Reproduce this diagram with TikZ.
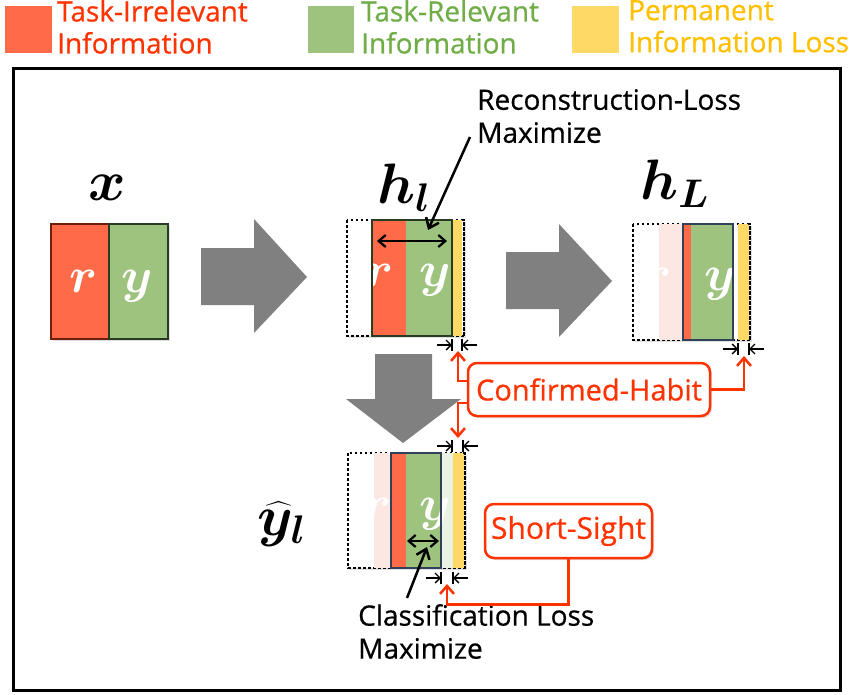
\RequirePackage{fix-cm}
\documentclass[tikz,border=0pt]{standalone}
\usepackage{amsmath}
\usepackage{fontspec}
\setmainfont{Open Sans}[FakeBold=0.6]
\usepackage{bm}
\usetikzlibrary{arrows.meta,shadows}
\definecolor{fillred}{RGB}{255,107,72}
\definecolor{fillgreen}{RGB}{157,195,126}
\definecolor{fillyellow}{RGB}{255,217,102}
\definecolor{txtred}{RGB}{255,51,0}
\definecolor{txtgreen}{RGB}{112,173,71}
\definecolor{txtyellow}{RGB}{255,192,0}
\definecolor{fadedpink}{RGB}{253,231,226}
\definecolor{fadedgreen}{RGB}{234,242,228}
\definecolor{arrowgray}{RGB}{128,128,128}
\definecolor{coreblue}{RGB}{50,65,90}
\definecolor{coregreen}{RGB}{40,60,35}
\definecolor{darkred}{RGB}{110,30,10}
\newcommand\gapmark[3]{%
  \draw[dimtip] (#1-15,#3) -- (#1,#3);
  \draw[line width=1.3pt] (#1,#3-6) -- (#1,#3+6);
  \draw[dimtip] (#2+15,#3) -- (#2,#3);
  \draw[line width=1.3pt] (#2,#3-6) -- (#2,#3+6);}
\begin{document}
\begin{tikzpicture}[x=1pt,y=-1pt,
  lbl/.style={font=\fontsize{28}{33}\selectfont, inner sep=0pt, align=left},
  leglbl/.style={font=\fontsize{28}{32}\selectfont, inner sep=0pt, align=left, anchor=north west},
  mathlbl/.style={font=\fontsize{57}{57}\selectfont, inner sep=0pt, anchor=base west},
  inlet/.style={text=white, font=\fontsize{50}{50}\selectfont, inner sep=0pt, anchor=base},
  dotbox/.style={draw=black, line width=2.5pt, dash pattern=on 2.5pt off 2.5pt, fill=white,
    drop shadow={opacity=0.25, shadow xshift=2pt, shadow yshift=-2pt}},
  dotedge/.style={draw=black, line width=2.5pt, dash pattern=on 2.5pt off 2.5pt},
  bigarrow/.style={fill=arrowgray},
  dimtip/.style={-{Straight Barb[length=5pt,width=10pt]}, line width=1.3pt},
  blackarrow/.style={-{Straight Barb[length=9pt,width=14pt]}, line width=2.5pt},
  dblarrow/.style={{Straight Barb[length=7pt,width=12pt]}-{Straight Barb[length=7pt,width=12pt]}, line width=2.2pt},
  redconn/.style={draw=txtred, line width=2.5pt, -{Straight Barb[length=8pt,width=14pt]}},
  redbox/.style={draw=txtred, line width=2.5pt, fill=white, rounded corners=9pt, text=txtred,
    font=\fontsize{29}{34}\selectfont, inner sep=0pt,
    drop shadow={opacity=0.25, shadow xshift=2pt, shadow yshift=-2pt}}]
\useasboundingbox (0,0) rectangle (852,694);
\fill[white] (0,0) rectangle (852,694);
% legend
\fill[fillred] (5,6) rectangle (52,53);
\node[leglbl, text=txtred] (legred) at (57,0) {Task-Irrelevant\\Information};
\fill[fillgreen] (308,6) rectangle (354,53);
\node[leglbl, text=txtgreen] (leggreen) at (361,0) {Task-Relevant\\Information};
\fill[fillyellow] (572,6) rectangle (619,53);
\node[leglbl, text=txtyellow] (legyellow) at (628,0) {Permanent\\Information Loss};
% frame
\draw[line width=3pt] (13,68) rectangle (840,690);
% x box
\fill[white, drop shadow={opacity=0.25, shadow xshift=2pt, shadow yshift=-2pt}] (51,224) rectangle (168,339);
\draw[fill=fillred, draw=darkred, line width=1.5pt] (51,224) rectangle (109,339);
\draw[fill=fillgreen, draw=coregreen, line width=1.5pt] (109,224) rectangle (168,339);
\node[inlet] (xr) at (84,292) {$\bm{r}$};
\node[inlet] (xy) at (137,292) {$\bm{y}$};
\node[mathlbl, anchor=base] (xlbl) at (107,200) {$\bm{x}$};
% big arrows
\fill[bigarrow] (201,248) -- (254,248) -- (254,219) -- (307,277) -- (254,333) -- (254,305) -- (201,305) -- cycle;
\fill[bigarrow] (506,252) -- (559,252) -- (559,224) -- (612,281) -- (559,337) -- (559,309) -- (506,309) -- cycle;
\fill[bigarrow] (375,354) -- (432,354) -- (432,399) -- (461,399) -- (403,443) -- (346,399) -- (375,399) -- cycle;
% h_l box
\draw[dotbox] (347,220) rectangle (464,336);
\fill[fillred] (372,220) rectangle (406,336);
\fill[fillgreen] (406,220) rectangle (452,336);
\fill[fillyellow] (452,220) rectangle (462,336);
\draw[dotedge] (462,220) -- (464,220) -- (464,336) -- (462,336);
\node[inlet] (hlr) at (380,286) {$\bm{r}$};
\node[inlet] (hly) at (435,286) {$\bm{y}$};
\draw[draw=coregreen, line width=1.5pt] (372,220) rectangle (452,336);
\node[mathlbl] (hllbl) at (377,203) {$\bm{h}_{\bm{l}}$};
\coordinate (hlL) at (377,241);
\coordinate (hlR) at (447,241);
\draw[dblarrow] (hlL) -- (hlR);
% h_L box
\draw[dotbox] (633,224) rectangle (750,340);
\fill[fadedpink] (659,224) rectangle (683,340);
\fill[fillred] (683,224) rectangle (691,340);
\fill[fillgreen] (691,224) rectangle (733,340);
\fill[fillyellow] (738,224) rectangle (749,340);
\draw[dotedge] (748,224) -- (750,224) -- (750,340) -- (748,340);
\node[inlet] (hLr) at (658,290) {$\bm{r}$};
\node[inlet] (hLy) at (720,290) {$\bm{y}$};
\draw[draw=coreblue, line width=1.5pt] (683,224) rectangle (733,340);
\node[mathlbl] (hLlbl) at (640,199) {$\bm{h}_{\bm{L}}$};
% y_hat box
\draw[dotbox] (348,453) rectangle (465,568);
\fill[fadedpink] (374,453) rectangle (391,568);
\fill[fillred] (391,453) rectangle (406,568);
\fill[fillgreen] (406,453) rectangle (441,568);
\fill[fadedgreen] (441,453) rectangle (453,568);
\fill[fillyellow] (453,453) rectangle (464,568);
\draw[dotedge] (463,453) -- (465,453) -- (465,568) -- (463,568);
\node[inlet] (yr) at (378,520) {$\bm{r}$};
\node[inlet] (yy) at (435,520) {$\bm{y}$};
\draw[draw=coreblue, line width=1.5pt] (391,453) rectangle (441,568);
\node[mathlbl] (ylbl) at (257,535) {$\widehat{\bm{y}}_{\bm{l}}$};
\coordinate (yL) at (407,541);
\coordinate (yR) at (439,541);
\draw[dblarrow] (yL) -- (yR);
% gap marks
\gapmark{452}{462}{345}
\gapmark{738}{749}{349}
\gapmark{452}{463}{446}
\gapmark{441}{453}{578}
% annotation texts
\node[lbl, anchor=north west] (rectxt) at (477,89) {Reconstruction-Loss\\Maximize};
\coordinate (recstart) at (470,137);
\coordinate (recend) at (428,230);
\draw[blackarrow] (recstart) -- (recend);
\node[lbl, anchor=north west] (clstxt) at (358,604) {Classification Loss\\Maximize};
\coordinate (clsstart) at (407,598);
\coordinate (clsend) at (427,547);
\draw[blackarrow] (clsstart) -- (clsend);
% red boxes
\node[redbox, minimum width=242pt, minimum height=53pt] (cbox) at (589,389.5) {Confirmed-Habit};
\coordinate (hlgap) at (458,351);
\coordinate (ygapTop) at (458,438);
\coordinate (hLgap) at (744,356);
\draw[redconn] ([yshift=8.5pt]cbox.west) -| (hlgap);
\draw[redconn] ([yshift=-13.5pt]cbox.west) -| (ygapTop);
\draw[redconn] (cbox.east) -| (hLgap);
\node[redbox, minimum width=167pt, minimum height=54pt, font=\fontsize{30}{34}\selectfont] (sbox) at (568.5,531) {Short-Sight};
\coordinate (ygapBot) at (447,584);
\draw[redconn] (sbox.south) -- ++(0,45) -| (ygapBot);
\end{tikzpicture}
\end{document}
